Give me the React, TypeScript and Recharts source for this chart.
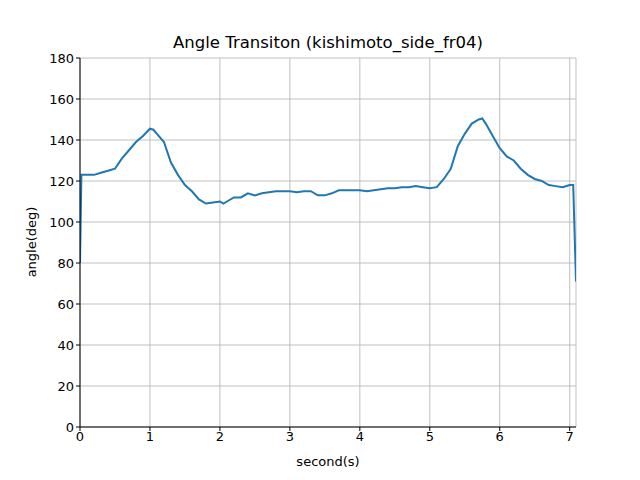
import React from "react";
import { LineChart, Line, XAxis, YAxis, CartesianGrid } from "recharts";

const seconds = [0,0.02,0.1,0.2,0.3,0.4,0.5,0.6,0.7,0.8,0.9,1.0,1.05,1.1,1.2,1.3,1.4,1.5,1.6,1.7,1.8,1.9,2.0,2.05,2.1,2.2,2.3,2.4,2.5,2.6,2.7,2.8,2.9,3.0,3.1,3.2,3.3,3.4,3.5,3.6,3.7,3.8,3.9,4.0,4.1,4.2,4.3,4.4,4.5,4.6,4.7,4.8,4.9,5.0,5.1,5.2,5.3,5.4,5.5,5.6,5.7,5.75,5.8,5.9,6.0,6.1,6.2,6.3,6.4,6.5,6.6,6.7,6.8,6.9,7.0,7.05,7.09];
const angles = [80,123,123,123,124,125,126,131,135,139,142,145.5,145,143,139,129,123,118,115,111,109,109.5,110,109,110,112,112,114,113,114,114.5,115,115,115,114.5,115,115,113,113,114,115.5,115.5,115.5,115.5,115,115.5,116,116.5,116.5,117,117,117.5,117,116.5,117,121,126,137,143,148,150,150.5,148,142,136,132,130,126,123,121,120,118,117.5,117,118,118,71];
const xTicks = [0,1,2,3,4,5,6,7];
const yTicks = [0,20,40,60,80,100,120,140,160,180];

const data = seconds.map((s, i) => ({ s, a: angles[i] }));
const tickStyle = { fill: "#000", fontSize: 13, fontFamily: "DejaVu Sans" };

export default function App() {
  return (
    <div style={{ position: "absolute", left: 0, top: 0, width: 640, height: 480, background: "#fff", fontFamily: "DejaVu Sans" }}>
      <LineChart width={640} height={480} data={data} margin={{ top: 58, right: 64, left: 0, bottom: 0 }}>
        <CartesianGrid xAxisId="b" yAxisId="l" stroke="#b0b0b0" strokeWidth={0.8} />
        <XAxis xAxisId="b" dataKey="s" type="number" domain={[0, 7.09]} ticks={xTicks} height={53} stroke="#000" tick={tickStyle} tickSize={4} tickMargin={1} allowDataOverflow />
        <XAxis xAxisId="t" orientation="top" dataKey="s" type="number" domain={[0, 7.09]} height={0} tick={false} stroke="#000" tickLine={false} />
        <YAxis yAxisId="l" domain={[0, 180]} ticks={yTicks} width={80} stroke="#000" tick={tickStyle} tickSize={4} />
        <YAxis yAxisId="r" orientation="right" domain={[0, 180]} width={0} tick={false} stroke="#000" tickLine={false} />
        <Line xAxisId="b" yAxisId="l" dataKey="a" stroke="#1f77b4" strokeWidth={2} dot={false} isAnimationActive={false} />
      </LineChart>
      <div style={{ position: "absolute", top: 33, left: 80, width: 496, textAlign: "center", fontSize: 16.5 }}>Angle Transiton (kishimoto_side_fr04)</div>
      <div style={{ position: "absolute", top: 454, left: 80, width: 496, textAlign: "center", fontSize: 13 }}>second(s)</div>
      <div style={{ position: "absolute", top: 242, left: 31, fontSize: 13, transform: "translate(-50%,-50%) rotate(-90deg)", whiteSpace: "nowrap" }}>angle(deg)</div>
    </div>
  );
}
